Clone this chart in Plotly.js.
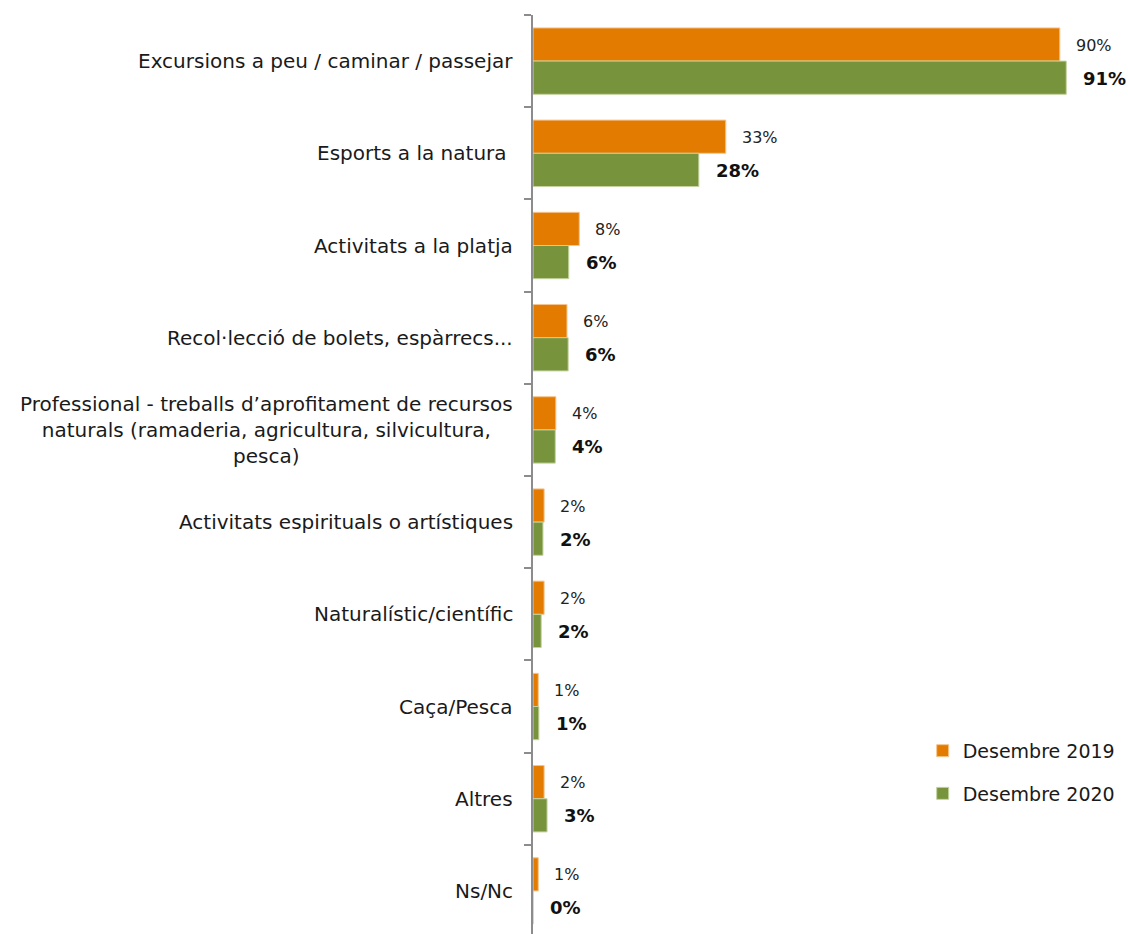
<!DOCTYPE html>
<html>
<head>
<meta charset="utf-8">
<script src="https://cdn.plot.ly/plotly-3.0.1.min.js"></script>
<style>html,body{margin:0;padding:0;background:#fff;}#chart{width:1128px;height:934px;}</style>
</head>
<body>
<div id="chart"></div>
<script>
var categories = [
  'Excursions a peu / caminar / passejar',
  'Esports a la natura ',
  'Activitats a la platja',
  'Recol·lecció de bolets, espàrrecs...',
  'Professional - treballs d\u2019aprofitament de recursos<br>naturals (ramaderia, agricultura, silvicultura,<br>pesca)',
  'Activitats espirituals o artístiques',
  'Naturalístic/científic',
  'Caça/Pesca',
  'Altres',
  'Ns/Nc'
];
var catKeys = ['c0','c1','c2','c3','c4','c5','c6','c7','c8','c9'];
var values2019 = [89.9, 32.9, 7.9, 5.8, 3.9, 1.9, 1.9, 0.9, 1.9, 0.9];
var values2020 = [91.0, 28.3, 6.1, 6.0, 3.8, 1.7, 1.4, 1.0, 2.4, 0.0];
var labels2019 = ['90%','33%','8%','6%','4%','2%','2%','1%','2%','1%'];
var labels2020 = ['91%','28%','6%','6%','4%','2%','2%','1%','3%','0%'];
var seriesNames = ['Desembre 2019', 'Desembre 2020'];

var FONT = 'DejaVu Sans, sans-serif';
var colOrange = '#E27B00';
var colGreen = '#77933C';

var traces = [
  {type:'bar', orientation:'h', name:seriesNames[0], legendgroup:'a', y:catKeys, x:values2019,
   marker:{color:colOrange, line:{color:'#F5C58F', width:1}}, hoverinfo:'skip'},
  {type:'bar', orientation:'h', name:seriesNames[1], legendgroup:'b', y:catKeys, x:values2020,
   marker:{color:colGreen, line:{color:'#C4D3A0', width:1}}, hoverinfo:'skip'}
];

var annotations = [];
categories.forEach(function(c, i){
  annotations.push({xref:'paper', yref:'y', x:0, y:catKeys[i], xanchor:'right', yanchor:'middle',
    xshift:-18, text:c, showarrow:false, align:'center', font:{family:FONT, size:20, color:'#1a1a1a'}});
  annotations.push({xref:'x', yref:'y', x:values2019[i], y:catKeys[i], xanchor:'left', yanchor:'middle',
    xshift:14, yshift:16, text:labels2019[i], showarrow:false, font:{family:FONT, size:16, color:'#222'}});
  annotations.push({xref:'x', yref:'y', x:values2020[i], y:catKeys[i], xanchor:'left', yanchor:'middle',
    xshift:15, yshift:-17, text:'<b>'+labels2020[i]+'</b>', showarrow:false, font:{family:FONT, size:18, color:'#111'}});
});

var layout = {
  width:1128, height:934,
  margin:{l:533, r:9, t:15, b:0, autoexpand:false},
  paper_bgcolor:'#fff', plot_bgcolor:'#fff',
  barmode:'group', bargap:0.28, bargroupgap:0,
  showlegend:true,
  legend:{x:0.665, y:0.220, xanchor:'left', yanchor:'top', font:{family:FONT, size:19, color:'#1a1a1a'},
          tracegroupgap:15, itemwidth:30, bgcolor:'rgba(0,0,0,0)'},
  xaxis:{range:[0,100], showgrid:false, zeroline:false, showline:false, showticklabels:false, ticks:'', fixedrange:true},
  yaxis:{type:'category', range:[9.467,-0.5], showgrid:false, zeroline:false, showline:true, linecolor:'#8c8c8c', linewidth:2,
         ticks:'outside', ticklen:7, tickcolor:'#8c8c8c', tickwidth:2, tickson:'boundaries', showticklabels:false},
  annotations:annotations,
  font:{family:FONT}
};

Plotly.newPlot('chart', traces, layout, {displayModeBar:false, staticPlot:true});
</script>
</body>
</html>
